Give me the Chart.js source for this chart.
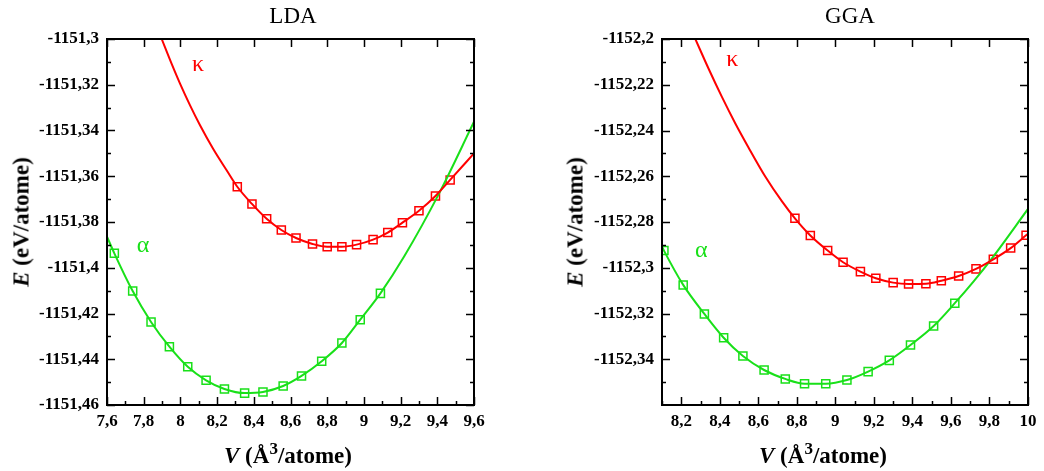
<!DOCTYPE html>
<html>
<head>
<meta charset="utf-8">
<title>E(V) LDA / GGA</title>
<script src="https://cdn.jsdelivr.net/npm/chart.js@4.4.1/dist/chart.umd.min.js"></script>
<style>
  html, body { margin: 0; padding: 0; background: #fff; }
  #wrap { position: relative; width: 1044px; height: 471px; overflow: hidden;
          font-family: "Liberation Serif", "Times New Roman", serif; color: #000; }
  canvas { position: absolute; top: 0; }
  .lbl { position: absolute; white-space: nowrap; line-height: 1; transform: translate(-50%, -50%); }
  .ttl { font-size: 23px; }
  .ax { font-size: 23px; font-weight: bold; }
  .ax sup { font-size: 17px; vertical-align: 9px; line-height: 0; }
  .rot { transform: translate(-50%, -50%) rotate(-90deg); }
</style>
</head>
<body>
<div id="wrap">
  <canvas id="lda" width="520" height="471" style="left:0"></canvas>
  <canvas id="gga" width="524" height="471" style="left:520px"></canvas>

  <div class="lbl ttl" style="left:293px; top:15px">LDA</div>
  <div class="lbl ttl" style="left:850px; top:15px">GGA</div>

  <div class="lbl ax rot" style="left:21px; top:222px"><i>E</i> (eV/atome)</div>
  <div class="lbl ax rot" style="left:575px; top:222px"><i>E</i> (eV/atome)</div>

  <div class="lbl ax" style="left:288px; top:455px"><i>V</i> (Å<sup>3</sup>/atome)</div>
  <div class="lbl ax" style="left:823px; top:455px"><i>V</i> (Å<sup>3</sup>/atome)</div>
</div>

<script>
// ---------- LDA data ----------
const ldaKappaV = [8.31, 8.39, 8.47, 8.55, 8.63, 8.72, 8.80, 8.88, 8.96, 9.05, 9.13, 9.21, 9.30, 9.39, 9.47];
const ldaKappaE = [-1151.3646, -1151.3721, -1151.3786, -1151.3835, -1151.3870, -1151.3896, -1151.3908, -1151.3908,
                   -1151.3899, -1151.3877, -1151.3846, -1151.3803, -1151.3751, -1151.3686, -1151.3616];
const ldaAlphaV = [7.64, 7.74, 7.84, 7.94, 8.04, 8.14, 8.24, 8.35, 8.45, 8.56, 8.66, 8.77, 8.88, 8.98, 9.09];
const ldaAlphaE = [-1151.3937, -1151.4102, -1151.4237, -1151.4345, -1151.4433, -1151.4492, -1151.4530, -1151.4548,
                   -1151.4543, -1151.4517, -1151.4473, -1151.4409, -1151.4329, -1151.4227, -1151.4112];

// fitted curves
const ldaKappaFitV = [7.898, 7.953, 7.998, 8.052, 8.107, 8.179, 8.252, 8.31, 8.39, 8.47, 8.55, 8.63, 8.72, 8.80, 8.88,
                      8.96, 9.05, 9.13, 9.21, 9.30, 9.39, 9.47, 9.60];
const ldaKappaFitE = [-1151.3000, -1151.3110, -1151.3195, -1151.3289, -1151.3377, -1151.3481, -1151.3574,
                      -1151.3646, -1151.3721, -1151.3786, -1151.3835, -1151.3870, -1151.3896, -1151.3908, -1151.3908,
                      -1151.3899, -1151.3877, -1151.3846, -1151.3803, -1151.3751, -1151.3686, -1151.3616, -1151.3500];
const ldaAlphaFitV = [7.60, 7.64, 7.74, 7.84, 7.94, 8.04, 8.14, 8.24, 8.35, 8.45, 8.56, 8.66, 8.77, 8.88, 8.98,
                      9.09, 9.22, 9.41, 9.60];
const ldaAlphaFitE = [-1151.3864, -1151.3937, -1151.4102, -1151.4237, -1151.4345, -1151.4433, -1151.4492,
                      -1151.4530, -1151.4548, -1151.4543, -1151.4517, -1151.4473, -1151.4409, -1151.4329,
                      -1151.4227, -1151.4112, -1151.3950, -1151.3675, -1151.3362];

const ldaXTicks = [7.6, 7.8, 8.0, 8.2, 8.4, 8.6, 8.8, 9.0, 9.2, 9.4, 9.6];
const ldaYTicks = [-1151.46, -1151.44, -1151.42, -1151.40, -1151.38, -1151.36, -1151.34, -1151.32, -1151.30];

// ---------- GGA data ----------
const ggaKappaV = [8.79, 8.87, 8.96, 9.04, 9.13, 9.21, 9.30, 9.38, 9.47, 9.55, 9.64, 9.73, 9.82, 9.91, 9.99];
const ggaKappaE = [-1152.2784, -1152.2859, -1152.2925, -1152.2976, -1152.3017, -1152.3046, -1152.3065, -1152.3071,
                   -1152.3070, -1152.3057, -1152.3036, -1152.3005, -1152.2963, -1152.2914, -1152.2858];
const ggaAlphaV = [8.11, 8.21, 8.32, 8.42, 8.52, 8.63, 8.74, 8.84, 8.95, 9.06, 9.17, 9.28, 9.39, 9.51, 9.62];
const ggaAlphaE = [-1152.2925, -1152.3075, -1152.3202, -1152.3306, -1152.3386, -1152.3447, -1152.3486, -1152.3507,
                   -1152.3507, -1152.3491, -1152.3454, -1152.3405, -1152.3338, -1152.3255, -1152.3155];

const ggaKappaFitV = [8.273, 8.342, 8.411, 8.480, 8.549, 8.636, 8.722, 8.79, 8.87, 8.96, 9.04, 9.13, 9.21, 9.30,
                      9.38, 9.47, 9.55, 9.64, 9.73, 9.82, 9.91, 9.99, 10.0];
const ggaKappaFitE = [-1152.2000, -1152.2130, -1152.2253, -1152.2368, -1152.2474, -1152.2601, -1152.2709,
                      -1152.2784, -1152.2859, -1152.2925, -1152.2976, -1152.3017, -1152.3046, -1152.3065,
                      -1152.3071, -1152.3070, -1152.3057, -1152.3036, -1152.3005, -1152.2963, -1152.2914,
                      -1152.2858, -1152.2851];
const ggaAlphaFitV = [8.10, 8.11, 8.21, 8.32, 8.42, 8.52, 8.63, 8.74, 8.84, 8.95, 9.06, 9.17, 9.28, 9.39, 9.51,
                      9.62, 9.72, 9.81, 10.0];
const ggaAlphaFitE = [-1152.2908, -1152.2925, -1152.3075, -1152.3202, -1152.3306, -1152.3386, -1152.3447,
                      -1152.3486, -1152.3507, -1152.3507, -1152.3491, -1152.3454, -1152.3405, -1152.3338,
                      -1152.3255, -1152.3155, -1152.3057, -1152.2962, -1152.2743];

const ggaXTicks = [8.2, 8.4, 8.6, 8.8, 9.0, 9.2, 9.4, 9.6, 9.8, 10.0];
const ggaYTicks = [-1152.34, -1152.32, -1152.30, -1152.28, -1152.26, -1152.24, -1152.22, -1152.20];

// ---------- Styling ----------
const RED = '#ff0000';
const GREEN = '#19e019';
const FONT = '"Liberation Serif", "Times New Roman", serif';

const pts = (xs, ys) => xs.map((v, i) => ({ x: v, y: ys[i] }));
const fmt = v => String(Number(v.toFixed(2))).replace('.', ',');

// frame + inward ticks (major and minor)
const frameTicks = {
  id: 'frameTicks',
  afterDatasetsDraw(chart) {
    const { ctx, chartArea: a, scales: { x, y } } = chart;
    ctx.save();
    ctx.strokeStyle = '#000';
    ctx.lineWidth = 1.5;
    ctx.beginPath();

    const minors = (scale) => {
      const vals = scale.ticks.map(t => t.value);
      const out = [];
      const step = vals[1] - vals[0];
      if (vals[0] - step / 2 >= scale.min - 1e-9) out.push(vals[0] - step / 2);
      for (let i = 0; i < vals.length - 1; i++) out.push((vals[i] + vals[i + 1]) / 2);
      const last = vals[vals.length - 1];
      if (last + step / 2 <= scale.max + 1e-9) out.push(last + step / 2);
      return out;
    };

    x.ticks.forEach(t => {
      const px = Math.round(x.getPixelForValue(t.value)) + 0.5;
      ctx.moveTo(px, a.bottom); ctx.lineTo(px, a.bottom - 8);
      ctx.moveTo(px, a.top); ctx.lineTo(px, a.top + 8);
    });
    minors(x).forEach(v => {
      const px = Math.round(x.getPixelForValue(v)) + 0.5;
      ctx.moveTo(px, a.bottom); ctx.lineTo(px, a.bottom - 4);
    });
    y.ticks.forEach(t => {
      const py = Math.round(y.getPixelForValue(t.value)) + 0.5;
      ctx.moveTo(a.left, py); ctx.lineTo(a.left + 8, py);
      ctx.moveTo(a.right, py); ctx.lineTo(a.right - 8, py);
    });
    minors(y).forEach(v => {
      const py = Math.round(y.getPixelForValue(v)) + 0.5;
      ctx.moveTo(a.left, py); ctx.lineTo(a.left + 4, py);
      ctx.moveTo(a.right, py); ctx.lineTo(a.right - 4, py);
    });
    ctx.stroke();

    ctx.lineWidth = 2;
    ctx.strokeRect(a.left, a.top, a.right - a.left, a.bottom - a.top);
    ctx.restore();
  }
};

// greek phase labels placed in data coordinates
const greekLabels = {
  id: 'greekLabels',
  afterDatasetsDraw(chart, args, opts) {
    const { ctx, scales: { x, y } } = chart;
    ctx.save();
    ctx.font = '24px ' + FONT;
    ctx.textAlign = 'center';
    ctx.textBaseline = 'middle';
    (opts.items || []).forEach(it => {
      ctx.fillStyle = it.color;
      ctx.fillText(it.text, x.getPixelForValue(it.v), y.getPixelForValue(it.e));
    });
    ctx.restore();
  }
};

function makeChart(id, cfg) {
  const curve = (data, color) => ({
    data, borderColor: color, borderWidth: 2, pointRadius: 0,
    tension: 0.4, cubicInterpolationMode: 'monotone', fill: false
  });
  const marks = (data, color) => ({
    data, showLine: false, pointStyle: 'rect', pointRadius: 5.7, pointBorderWidth: 1.5,
    pointBorderColor: color, pointBackgroundColor: 'rgba(0,0,0,0)', borderColor: color
  });

  return new Chart(document.getElementById(id), {
    type: 'line',
    data: {
      datasets: [
        curve(cfg.kappaFit, RED),
        curve(cfg.alphaFit, GREEN),
        marks(cfg.kappa, RED),
        marks(cfg.alpha, GREEN)
      ]
    },
    options: {
      responsive: false,
      animation: false,
      devicePixelRatio: 1,
      events: [],
      layout: { padding: { top: 39, right: cfg.padRight, left: 0, bottom: 0 } },
      plugins: {
        legend: { display: false },
        tooltip: { enabled: false },
        greekLabels: { items: cfg.greek }
      },
      scales: {
        x: {
          type: 'linear', min: cfg.xMin, max: cfg.xMax,
          grid: { display: false, drawTicks: false },
          border: { display: false },
          afterBuildTicks: s => { s.ticks = cfg.xTicks.map(v => ({ value: v })); },
          afterFit: s => { s.height = 66; },
          ticks: {
            padding: 6, maxRotation: 0, autoSkip: false, color: '#000',
            font: { family: FONT, size: 17, weight: 'bold' },
            callback: v => fmt(v)
          }
        },
        y: {
          type: 'linear', min: cfg.yMin, max: cfg.yMax,
          grid: { display: false, drawTicks: false },
          border: { display: false },
          afterBuildTicks: s => { s.ticks = cfg.yTicks.map(v => ({ value: v })); },
          afterFit: s => { s.width = cfg.yWidth; },
          ticks: {
            padding: 8, autoSkip: false, color: '#000',
            font: { family: FONT, size: 17, weight: 'bold' },
            callback: v => fmt(v)
          }
        }
      }
    },
    plugins: [frameTicks, greekLabels]
  });
}

makeChart('lda', {
  kappa: pts(ldaKappaV, ldaKappaE),
  alpha: pts(ldaAlphaV, ldaAlphaE),
  kappaFit: pts(ldaKappaFitV, ldaKappaFitE),
  alphaFit: pts(ldaAlphaFitV, ldaAlphaFitE),
  xTicks: ldaXTicks, yTicks: ldaYTicks,
  xMin: 7.6, xMax: 9.6, yMin: -1151.46, yMax: -1151.30,
  yWidth: 107, padRight: 46,
  greek: [
    { text: 'κ', color: RED, v: 8.096, e: -1151.3114 },
    { text: 'α', color: GREEN, v: 7.796, e: -1151.3905 }
  ]
});

makeChart('gga', {
  kappa: pts(ggaKappaV, ggaKappaE),
  alpha: pts(ggaAlphaV, ggaAlphaE),
  kappaFit: pts(ggaKappaFitV, ggaKappaFitE),
  alphaFit: pts(ggaAlphaFitV, ggaAlphaFitE),
  xTicks: ggaXTicks, yTicks: ggaYTicks,
  xMin: 8.1, xMax: 10.0, yMin: -1152.36, yMax: -1152.20,
  yWidth: 142, padRight: 16,
  greek: [
    { text: 'κ', color: RED, v: 8.465, e: -1152.2092 },
    { text: 'α', color: GREEN, v: 8.304, e: -1152.2927 }
  ]
});
</script>
</body>
</html>
